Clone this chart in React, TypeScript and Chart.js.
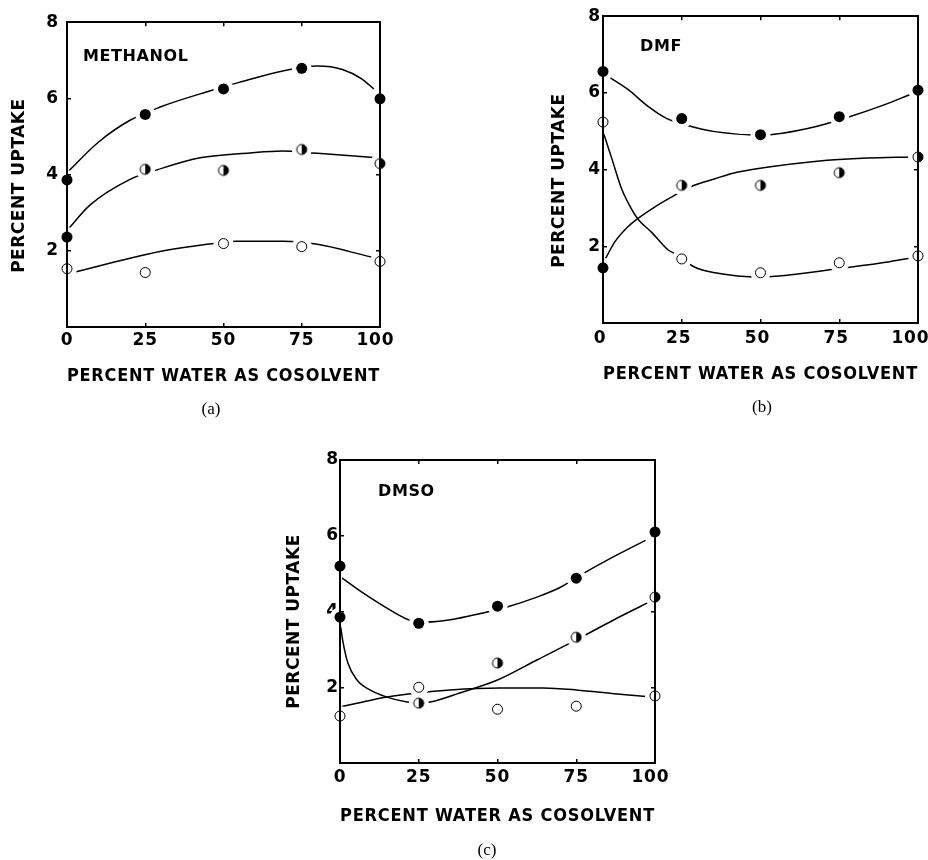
import React, { useEffect, useRef } from "react";
import { Chart, registerables } from "chart.js";

Chart.register(...registerables);

// ---------- shared axis data ----------
const WATER_PERCENT = [0, 25, 50, 75, 100];
const X_TICKS = [0, 25, 50, 75, 100];
const X_TICK_LABELS = ["0", "25", "50", "75", "100"];
const Y_TICKS = [0, 2, 4, 6, 8];
const Y_TICK_LABELS = ["", "2", "4", "6", "8"];
const X_TITLE = "PERCENT WATER AS COSOLVENT";
const Y_TITLE = "PERCENT UPTAKE";

// ---------- (a) METHANOL ----------
const METHANOL_FILLED = [3.86, 5.58, 6.25, 6.79, 5.99];
const METHANOL_HALF = [2.36, 4.14, 4.11, 4.66, 4.29];
const METHANOL_OPEN = [1.53, 1.43, 2.19, 2.11, 1.72];
const METHANOL_FILLED_FIT_X = [0, 10, 20, 30, 45, 55, 70, 80, 88, 94, 98];
const METHANOL_FILLED_FIT_Y = [4.05, 4.85, 5.42, 5.78, 6.18, 6.42, 6.74, 6.85, 6.76, 6.52, 6.25];
const METHANOL_HALF_FIT_X = [0.5, 7.3, 20, 29, 42.5, 58.5, 69, 78, 96, 100];
const METHANOL_HALF_FIT_Y = [2.58, 3.2, 3.87, 4.13, 4.44, 4.57, 4.62, 4.57, 4.46, 4.43];
const METHANOL_OPEN_FIT_X = [0, 29.7, 44.7, 54, 69, 80, 96, 100];
const METHANOL_OPEN_FIT_Y = [1.39, 1.98, 2.17, 2.25, 2.25, 2.17, 1.86, 1.78];

// ---------- (b) DMF ----------
const DMF_FILLED = [6.56, 5.33, 4.91, 5.38, 6.07];
const DMF_HALF = [1.44, 3.59, 3.59, 3.92, 4.33];
const DMF_OPEN = [5.24, 1.67, 1.31, 1.57, 1.75];
const DMF_FILLED_FIT_X = [1.6, 7.9, 14.3, 20.3, 26, 35.5, 50, 57, 68, 78, 89, 97.5];
const DMF_FILLED_FIT_Y = [6.43, 6.09, 5.65, 5.33, 5.17, 4.99, 4.9, 4.95, 5.13, 5.37, 5.68, 5.96];
const DMF_HALF_FIT_X = [0.6, 3.8, 7.9, 11, 16.5, 21.9, 28, 35.5, 41, 52, 68, 84, 97.5];
const DMF_HALF_FIT_Y = [1.65, 2.12, 2.51, 2.72, 3.03, 3.29, 3.56, 3.76, 3.9, 4.06, 4.22, 4.3, 4.33];
const DMF_OPEN_FIT_X = [0.3, 2.9, 6, 9.2, 11, 15.6, 20.6, 23.5, 29, 35.5, 50, 59, 75, 91, 98.4];
const DMF_OPEN_FIT_Y = [4.92, 4.26, 3.48, 2.95, 2.72, 2.35, 1.91, 1.78, 1.46, 1.31, 1.2, 1.25, 1.42, 1.6, 1.7];

// ---------- (c) DMSO ----------
const DMSO_FILLED = [5.2, 3.69, 4.14, 4.88, 6.1];
const DMSO_HALF = [3.85, 1.58, 2.64, 3.32, 4.38];
const DMSO_OPEN = [1.24, 2.0, 1.42, 1.5, 1.77];
const DMSO_FILLED_FIT_X = [0.7, 7.3, 14.9, 22.2, 27.6, 35, 41, 53, 62.5, 70, 78, 89, 97];
const DMSO_FILLED_FIT_Y = [4.88, 4.49, 4.09, 3.77, 3.72, 3.78, 3.88, 4.12, 4.38, 4.64, 5.04, 5.54, 5.88];
const DMSO_HALF_FIT_X = [0, 1, 2.5, 5.4, 9.5, 14.9, 21.3, 24.4, 28.6, 38, 50, 62.5, 75, 86.7, 99.4];
const DMSO_HALF_FIT_Y = [3.72, 3.17, 2.64, 2.19, 1.93, 1.74, 1.61, 1.58, 1.61, 1.85, 2.19, 2.72, 3.25, 3.77, 4.3];
const DMSO_OPEN_FIT_X = [0, 7.3, 14.9, 24.4, 35, 50.8, 64.5, 75, 88, 99];
const DMSO_OPEN_FIT_Y = [1.48, 1.61, 1.74, 1.85, 1.93, 1.98, 1.98, 1.93, 1.82, 1.74];

const INK = "#000";
const SANS = '"DejaVu Sans", sans-serif';
const SPACING = "0.8px";

const toPoints = (xs: number[], ys: number[]) => xs.map((x, i) => ({ x, y: ys[i] }));

function makeHalfMarker(r: number) {
  const size = 14;
  const c = document.createElement("canvas");
  c.width = size;
  c.height = size;
  const ctx = c.getContext("2d")!;
  const cx = size / 2;
  const cy = size / 2;
  ctx.fillStyle = "#fff";
  ctx.beginPath();
  ctx.arc(cx, cy, r, 0, Math.PI * 2);
  ctx.fill();
  ctx.fillStyle = INK;
  ctx.beginPath();
  ctx.moveTo(cx, cy - r);
  ctx.arc(cx, cy, r, -Math.PI / 2, Math.PI / 2);
  ctx.closePath();
  ctx.fill();
  ctx.strokeStyle = INK;
  ctx.lineWidth = 1;
  ctx.beginPath();
  ctx.arc(cx, cy, r, 0, Math.PI * 2);
  ctx.stroke();
  return c;
}

type PanelSpec = {
  filled: number[];
  half: number[];
  open: number[];
  filledFit: [number[], number[]];
  halfFit: [number[], number[]];
  openFit: [number[], number[]];
  firstHalfFilled: boolean;
  label: string;
  caption: string;
  box: { left: number; top: number; w: number; h: number };
  pad: { left: number; top: number; right: number; bottom: number };
  xH: number;
  xTickPad: number;
  xLabelOffset: number;
  yTickPad: number;
  labelDx: number;
  labelDy: number;
  yTitleDx: number;
  yTitleShift: number;
  captionX: number;
  captionY: number;
};

const PANELS: PanelSpec[] = [
  {
    filled: METHANOL_FILLED,
    half: METHANOL_HALF,
    open: METHANOL_OPEN,
    filledFit: [METHANOL_FILLED_FIT_X, METHANOL_FILLED_FIT_Y],
    halfFit: [METHANOL_HALF_FIT_X, METHANOL_HALF_FIT_Y],
    openFit: [METHANOL_OPEN_FIT_X, METHANOL_OPEN_FIT_Y],
    firstHalfFilled: true,
    label: "METHANOL",
    caption: "(a)",
    box: { left: 0, top: 0, w: 440, h: 430 },
    pad: { left: 0, top: 16, right: 60, bottom: 43 },
    xH: 60,
    xTickPad: 7,
    xLabelOffset: 0,
    yTickPad: 12,
    labelDx: 16,
    labelDy: 35,
    yTitleDx: 47,
    yTitleShift: 11,
    captionX: 211,
    captionY: 410,
  },
  {
    filled: DMF_FILLED,
    half: DMF_HALF,
    open: DMF_OPEN,
    filledFit: [DMF_FILLED_FIT_X, DMF_FILLED_FIT_Y],
    halfFit: [DMF_HALF_FIT_X, DMF_HALF_FIT_Y],
    openFit: [DMF_OPEN_FIT_X, DMF_OPEN_FIT_Y],
    firstHalfFilled: true,
    label: "DMF",
    caption: "(b)",
    box: { left: 440, top: 0, w: 528, h: 430 },
    pad: { left: 96, top: 16, right: 50, bottom: 45 },
    xH: 62,
    xTickPad: 9,
    xLabelOffset: -3,
    yTickPad: 6,
    labelDx: 37,
    labelDy: 31,
    yTitleDx: 43,
    yTitleShift: 11,
    captionX: 322,
    captionY: 408,
  },
  {
    filled: DMSO_FILLED,
    half: DMSO_HALF,
    open: DMSO_OPEN,
    filledFit: [DMSO_FILLED_FIT_X, DMSO_FILLED_FIT_Y],
    halfFit: [DMSO_HALF_FIT_X, DMSO_HALF_FIT_Y],
    openFit: [DMSO_OPEN_FIT_X, DMSO_OPEN_FIT_Y],
    firstHalfFilled: true,
    label: "DMSO",
    caption: "(c)",
    box: { left: 260, top: 440, w: 445, h: 420 },
    pad: { left: 13, top: 20, right: 50, bottom: 33 },
    xH: 64,
    xTickPad: 8,
    xLabelOffset: 0,
    yTickPad: 5,
    labelDx: 38,
    labelDy: 32,
    yTitleDx: 45,
    yTitleShift: 10,
    captionX: 227,
    captionY: 411,
  },
];

function Panel({ spec }: { spec: PanelSpec }) {
  const ref = useRef<HTMLCanvasElement | null>(null);

  useEffect(() => {
    if (!ref.current) return;
    const halfMarker = makeHalfMarker(5);
    const halfStyles = WATER_PERCENT.map((_, i) => (i === 0 && spec.firstHalfFilled ? "circle" : halfMarker));
    const halfFill = WATER_PERCENT.map((_, i) => (i === 0 && spec.firstHalfFilled ? INK : "#fff"));
    const halfRadius = WATER_PERCENT.map((_, i) => (i === 0 && spec.firstHalfFilled ? 5.5 : 5));

    const curve = (xy: [number[], number[]]) => ({
      data: toPoints(xy[0], xy[1]),
      showLine: true,
      borderColor: INK,
      borderWidth: 1.5,
      pointRadius: 0,
      cubicInterpolationMode: "monotone",
      clip: false,
      order: 3,
    });
    const halo = (ys: number[]) => ({
      data: toPoints(WATER_PERCENT, ys),
      showLine: false,
      pointRadius: 10,
      pointBackgroundColor: "#fff",
      pointBorderWidth: 0,
      pointBorderColor: "#fff",
      clip: false,
      order: 2,
    });

    const tickGrid = { drawOnChartArea: false, tickLength: -4, color: INK, lineWidth: 1.5, z: 1 };
    const border = { display: true, color: INK, width: 2, z: 1 };
    const font = { family: SANS, size: 17, weight: "bold" };
    const lastX = X_TICKS[X_TICKS.length - 1];

    const textPlugin = {
      id: "panelText",
      beforeDraw(chart: any) {
        chart.ctx.letterSpacing = SPACING;
      },
      afterDraw(chart: any) {
        const { ctx, chartArea } = chart;
        ctx.save();
        ctx.letterSpacing = "0.6px";
        ctx.fillStyle = INK;
        ctx.font = `bold 16px ${SANS}`;
        ctx.textAlign = "left";
        ctx.textBaseline = "middle";
        ctx.fillText(spec.label, chartArea.left + spec.labelDx, chartArea.top + spec.labelDy);

        ctx.save();
        ctx.translate(chartArea.left - spec.yTitleDx, (chartArea.top + chartArea.bottom) / 2 + spec.yTitleShift);
        ctx.rotate(-Math.PI / 2);
        ctx.font = `bold 17px ${SANS}`;
        ctx.letterSpacing = "0.5px";
        ctx.textAlign = "center";
        ctx.fillText(Y_TITLE, 0, 0);
        ctx.restore();

        ctx.letterSpacing = "0px";
        ctx.font = '17px "Liberation Serif", serif';
        ctx.textAlign = "center";
        ctx.fillText(spec.caption, spec.captionX, spec.captionY);
        ctx.restore();
      },
    };

    const chart = new Chart(ref.current, {
      type: "scatter",
      data: {
        datasets: [
          {
            data: toPoints(WATER_PERCENT, spec.filled),
            pointRadius: 5.5,
            pointBackgroundColor: INK,
            pointBorderColor: INK,
            pointBorderWidth: 0,
            clip: false,
            order: 1,
          },
          {
            data: toPoints(WATER_PERCENT, spec.half),
            pointStyle: halfStyles,
            pointRadius: halfRadius,
            pointBackgroundColor: halfFill,
            pointBorderColor: INK,
            pointBorderWidth: 0,
            clip: false,
            order: 1,
          },
          {
            data: toPoints(WATER_PERCENT, spec.open),
            pointRadius: 5,
            pointBackgroundColor: "#fff",
            pointBorderColor: INK,
            pointBorderWidth: 1,
            clip: false,
            order: 1,
          },
          halo(spec.filled),
          halo(spec.half),
          halo(spec.open),
          curve(spec.filledFit),
          curve(spec.halfFit),
          curve(spec.openFit),
        ] as any,
      },
      options: {
        responsive: false,
        animation: false,
        devicePixelRatio: 1,
        events: [],
        layout: { padding: spec.pad },
        plugins: { legend: { display: false }, tooltip: { enabled: false } },
        scales: {
          x: {
            type: "linear",
            position: "bottom",
            min: 0,
            max: 100,
            afterBuildTicks: (s: any) => {
              s.ticks = X_TICKS.map((v) => ({ value: v }));
            },
            afterFit: (s: any) => {
              s.height = spec.xH;
            },
            ticks: {
              color: INK,
              font,
              padding: spec.xTickPad,
              labelOffset: spec.xLabelOffset,
              maxRotation: 0,
              autoSkip: false,
              callback: (v: any) => {
                const label = X_TICK_LABELS[X_TICKS.indexOf(Number(v))] ?? "";
                // the last label sits slightly left of its tick in the original
                return Number(v) === lastX ? label + "\u2002" : label;
              },
            },
            grid: tickGrid,
            border,
            title: { display: true, text: X_TITLE, color: INK, font, padding: 0 },
          },
          x2: {
            type: "linear",
            position: "top",
            display: true,
            min: 0,
            max: 100,
            afterBuildTicks: (s: any) => {
              s.ticks = X_TICKS.map((v) => ({ value: v }));
            },
            afterFit: (s: any) => {
              s.height = 0;
            },
            ticks: { display: false },
            grid: tickGrid,
            border,
          },
          y: {
            type: "linear",
            position: "left",
            min: 0,
            max: 8,
            afterBuildTicks: (s: any) => {
              s.ticks = Y_TICKS.map((v) => ({ value: v }));
            },
            afterFit: (s: any) => {
              s.width = 67;
            },
            ticks: {
              color: INK,
              font,
              padding: spec.yTickPad,
              autoSkip: false,
              callback: (v: any) => Y_TICK_LABELS[Y_TICKS.indexOf(Number(v))] ?? "",
            },
            grid: tickGrid,
            border,
          },
          y2: {
            type: "linear",
            position: "right",
            display: true,
            min: 0,
            max: 8,
            afterBuildTicks: (s: any) => {
              s.ticks = Y_TICKS.map((v) => ({ value: v }));
            },
            afterFit: (s: any) => {
              s.width = 0;
            },
            ticks: { display: false },
            grid: tickGrid,
            border,
          },
        },
      } as any,
      plugins: [textPlugin as any],
    });
    return () => chart.destroy();
  }, [spec]);

  return (
    <canvas
      ref={ref}
      width={spec.box.w}
      height={spec.box.h}
      style={{ position: "absolute", left: spec.box.left, top: spec.box.top, width: spec.box.w, height: spec.box.h }}
    />
  );
}

export default function App() {
  return (
    <div style={{ position: "absolute", left: 0, top: 0, width: 928, height: 860, background: "#fff", overflow: "hidden" }}>
      {PANELS.map((p, i) => (
        <Panel key={i} spec={p} />
      ))}
    </div>
  );
}
